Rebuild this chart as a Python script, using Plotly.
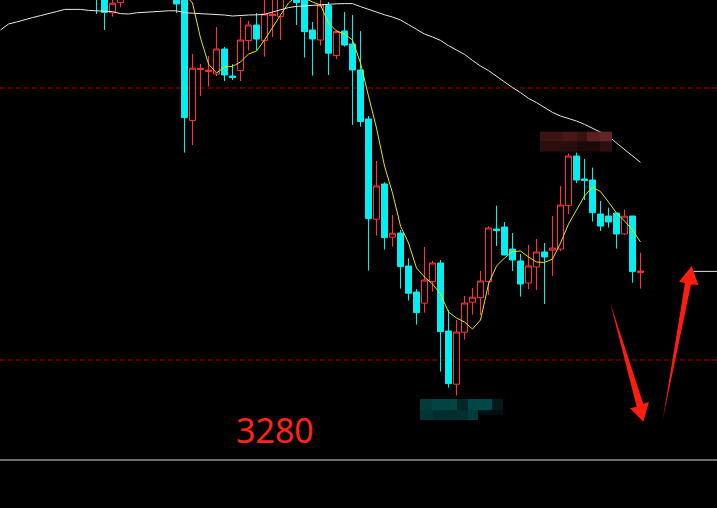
import plotly.graph_objects as go

# ---- data (candle index, prices) ----
idx = list(range(-1, 68))
opens = [3486, 3485, 3473.6, 3478.7, 3483, 3487, 3492, 3490, 3493, 3489,
         3484, 3481.5, 3419.7, 3445.3, 3444.2, 3443, 3455.5, 3442, 3444.7, 3459.7,
         3467.5, 3459.7, 3472.2, 3471.7, 3482, 3483, 3481.5, 3465, 3460, 3477.2,
         3452.2, 3464.5, 3458, 3445, 3420.5, 3370.4, 3388, 3361.4, 3363.5, 3347,
         3334, 3328.4, 3339.2, 3348.5, 3314.5, 3287.9, 3313.9, 3328.9, 3331.2, 3339.2,
         3365.5, 3366.5, 3355.5, 3349.5, 3338.5, 3346.5, 3354, 3354.9, 3355.5, 3377.2,
         3402, 3390.5, 3390, 3373, 3372, 3373.5, 3363, 3372, 3343.7]
highs = [3488, 3487.5, 3482, 3485, 3489, 3494, 3497, 3495, 3496, 3492,
         3486, 3483, 3453, 3448, 3452, 3466.5, 3456.5, 3448, 3471.5, 3469.5,
         3473.5, 3481.5, 3481, 3483, 3489, 3484.5, 3483, 3469, 3481, 3479,
         3465, 3474, 3472.5, 3464.5, 3422, 3399.5, 3388.9, 3372.5, 3365, 3350.9,
         3335.5, 3356.5, 3349.5, 3350, 3325, 3320, 3332, 3336, 3344.5, 3367,
         3377.2, 3369, 3363.5, 3353, 3357.5, 3360.5, 3358.5, 3372, 3387, 3403.2,
         3403.7, 3400.5, 3396.2, 3379.5, 3376.2, 3373.5, 3375.2, 3372, 3353.7]
lows = [3473, 3465, 3471.7, 3476.4, 3481, 3485, 3488, 3486, 3487, 3484,
        3473.5, 3403.7, 3407.5, 3432, 3436.7, 3442, 3439.5, 3440, 3439.5, 3454.7,
        3455, 3451.7, 3461.5, 3460, 3481.5, 3467.5, 3451.2, 3442.2, 3457.2, 3442.5,
        3450.5, 3456.7, 3417.5, 3416.7, 3344.7, 3362.2, 3355.2, 3356.7, 3335.7, 3329.7,
        3317.7, 3323.7, 3334.2, 3294.2, 3286.2, 3282.2, 3310.2, 3322.7, 3322.5, 3332.5,
        3357, 3352.3, 3344.5, 3331.7, 3335.5, 3335, 3328, 3342, 3354.5, 3373,
        3388.4, 3380, 3369.2, 3364.5, 3366.2, 3355.7, 3362.5, 3338.7, 3335.7]
closes = [3482, 3473.8, 3478.4, 3483, 3487, 3492, 3490, 3493, 3489, 3486,
          3478, 3421.2, 3445.9, 3445.8, 3444.9, 3455.5, 3442.5, 3441.3, 3460, 3467.5,
          3460.5, 3473, 3472.9, 3481, 3486, 3478.7, 3464.2, 3460.5, 3477.5, 3453.4,
          3464.2, 3457.5, 3445, 3419.2, 3370.7, 3387, 3361.2, 3363.4, 3346.7, 3333.4,
          3323.7, 3340, 3348.5, 3314.2, 3288.2, 3314, 3328.5, 3331.4, 3339.5, 3366,
          3364.7, 3352.5, 3350, 3338, 3347, 3354, 3351.5, 3356, 3377.5, 3402,
          3390, 3389.7, 3373.7, 3367, 3369, 3363, 3371.9, 3344.2, 3344.5]

# short moving average (yellow)
ma_short_x = list(range(10, 68))
ma_short = [3483, 3478.5, 3461, 3448, 3443.5, 3446.5, 3446.8, 3449, 3453, 3454.5,
            3460, 3466.5, 3472.5, 3478.5, 3482, 3481, 3479, 3477.5, 3468.5, 3464.5,
            3463, 3460, 3448.5, 3432, 3416, 3397, 3383.5, 3367, 3358.5, 3346,
            3341.5, 3338, 3333, 3324, 3321, 3319, 3315.5, 3320, 3338, 3347,
            3351, 3354.2, 3354.5, 3351.5, 3349, 3348.8, 3350.5, 3358.5, 3368, 3375,
            3382, 3386.5, 3384.2, 3379, 3373.5, 3369.5, 3365, 3359]

# long moving average (white)
ma_long_x = list(range(-13, 68))
ma_long = [3465, 3468, 3469, 3470.2, 3471.2, 3472.2, 3473.1, 3474.2, 3475.3, 3475.3,
           3475.3, 3474.8, 3474.7, 3474.6, 3474.2, 3473.2, 3473, 3473.6, 3473.9, 3474,
           3474.2, 3474.6, 3474.6, 3473.7, 3473.4, 3473.2, 3473, 3472.8, 3472.5, 3472,
           3472.4, 3472.5, 3472.6, 3472.8, 3474, 3475, 3476.2, 3476.8, 3477.1, 3477.3,
           3477.6, 3477.9, 3478.1, 3478.2, 3478.2, 3476.7, 3475.2, 3474, 3472.6, 3471.5,
           3470, 3467.7, 3465.2, 3463, 3461.5, 3459.8, 3457.2, 3455.2, 3452.8, 3449.8,
           3447, 3444.7, 3441.8, 3438.7, 3436.2, 3433.7, 3430.8, 3428.7, 3426.1, 3423.8,
           3422, 3420.8, 3419.5, 3417.8, 3416, 3414.2, 3412, 3408.5, 3405.2, 3401.8,
           3398.8]

level_lines = [3436, 3300]
base_line = 3250
mark_level = 3344.3
label_text = "3280"

X_RANGE = [-13.0625, 76.5625]
Y_RANGE = [3226, 3480]
W, H = 717, 508

UP = "#FF3434"
DOWN = "#00F0F0"

fig = go.Figure()
fig.add_trace(go.Candlestick(
    x=idx, open=opens, high=highs, low=lows, close=closes,
    increasing=dict(line=dict(color=UP, width=1), fillcolor="#000000"),
    decreasing=dict(line=dict(color=DOWN, width=1), fillcolor=DOWN),
    whiskerwidth=0, hoverinfo="skip", showlegend=False))
fig.add_trace(go.Scatter(x=ma_long_x, y=ma_long, mode="lines",
                         line=dict(color="#E8E8E8", width=1), hoverinfo="skip", showlegend=False))
fig.add_trace(go.Scatter(x=ma_short_x, y=ma_short, mode="lines",
                         line=dict(color="#E6E600", width=1), hoverinfo="skip", showlegend=False))

shapes = []
for lv in level_lines:
    shapes.append(dict(type="line", xref="paper", x0=0, x1=1, yref="y", y0=lv, y1=lv,
                       line=dict(color="#A80000", width=1, dash="5px,3px"), layer="below"))
shapes.append(dict(type="line", xref="paper", x0=0, x1=1, yref="y", y0=base_line, y1=base_line,
                   line=dict(color="#D8D8D8", width=1)))
shapes.append(dict(type="line", xref="x", x0=73.6, x1=X_RANGE[1], yref="y", y0=mark_level, y1=mark_level,
                   line=dict(color="#E0E0E0", width=1)))


def P(px, py):
    return px / W, 1 - py / H


def poly(pts, color):
    s = ""
    for k, (a, b) in enumerate(pts):
        u, v = P(a, b)
        s += ("M" if k == 0 else "L") + f"{u:.5f},{v:.5f} "
    return dict(type="path", xref="paper", yref="paper", path=s + "Z",
                fillcolor=color, line=dict(width=0), layer="above")


ARROW = "#FF1E0E"
shapes.append(poly([(610, 302), (643.3, 404), (649, 401.7), (643.3, 421.7), (630, 408.3), (636.7, 406.7)], ARROW))
shapes.append(poly([(662.7, 420), (685, 283), (679, 281.7), (691.7, 266), (698.3, 285), (691, 284.5)], ARROW))


def rect(x0, y0, x1, y1, color):
    u0, v0 = P(x0, y0)
    u1, v1 = P(x1, y1)
    return dict(type="rect", xref="paper", yref="paper", x0=u0, x1=u1, y0=v1, y1=v0,
                fillcolor=color, line=dict(width=0), layer="above")


# blurred label patches
red_blocks = [(540, 131.7, 563, 141.7, "#3C1414"), (563, 131.7, 577, 141.7, "#4A1717"),
              (577, 131.7, 587, 141.7, "#3A1212"), (587, 131.7, 600, 141.7, "#5C1E1E"),
              (600, 131.7, 612, 141.7, "#5E2828"),
              (540, 141.7, 563, 151.7, "#2C0E0E"), (563, 141.7, 577, 151.7, "#2A0D0D"),
              (577, 141.7, 600, 151.7, "#1C0A0A"), (600, 141.7, 612, 151.7, "#2E0E0E")]
teal_blocks = [(420, 399, 432, 410, "#003C3C"), (432, 399, 457, 410, "#004444"),
               (457, 399, 468, 410, "#002828"), (468, 399, 492, 410, "#004848"),
               (492, 399, 503, 410, "#001A1A"),
               (420, 410, 433, 420, "#003535"), (433, 410, 457, 420, "#002E2E"),
               (457, 410, 468, 420, "#003030"), (468, 410, 478, 420, "#003C3C"),
               (478, 410, 503, 415, "#000F0F")]
for b in red_blocks + teal_blocks:
    shapes.append(rect(*b))

fig.update_layout(
    width=W, height=H,
    margin=dict(l=0, r=0, t=0, b=0),
    paper_bgcolor="#000000", plot_bgcolor="#000000",
    showlegend=False, hovermode=False,
    boxgap=0.25, boxgroupgap=0,
    xaxis=dict(range=X_RANGE, visible=False, rangeslider=dict(visible=False), fixedrange=True),
    yaxis=dict(range=Y_RANGE, visible=False, fixedrange=True),
    shapes=shapes,
    annotations=[dict(text=label_text, xref="paper", yref="paper",
                      x=274.5 / W, y=1 - 430 / H, showarrow=False,
                      font=dict(family="Noto Sans", size=34, color="#FF2418"),
                      xanchor="center", yanchor="middle")],
)

fig.write_html("out.html", config={"displayModeBar": False},
               post_script="document.body.style.margin='0';document.body.style.background='#000';")
